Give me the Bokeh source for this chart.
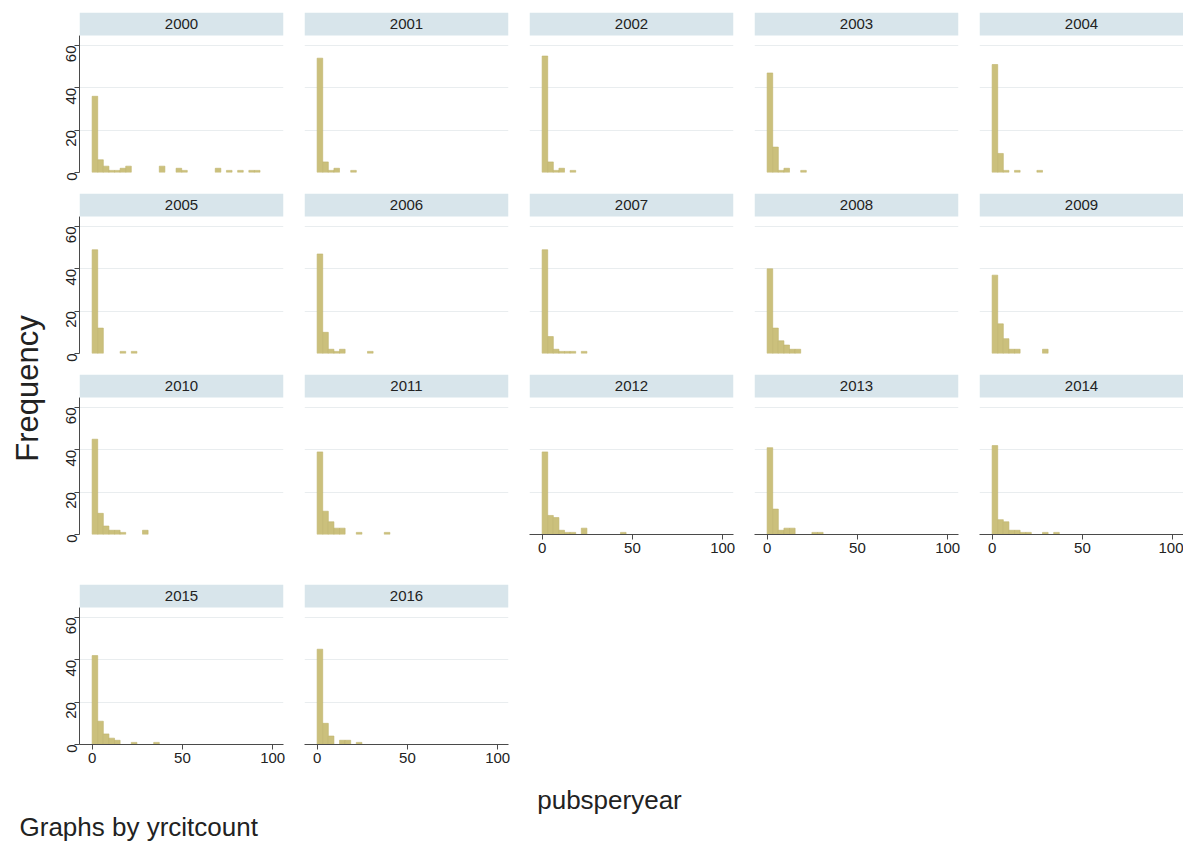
import math
from bokeh.plotting import figure
from bokeh.layouts import row, column
from bokeh.models import Range1d, BoxAnnotation, Label, FixedTicker
from bokeh.embed import file_html
from bokeh.resources import INLINE

# ---------------- data ----------------
years = list(range(2000, 2017))
BIN_START = 0.0
BIN_WIDTH = 3.1
c2000 = [36, 6, 3, 1, 1, 2, 3, 0, 0, 0, 0, 0, 3, 0, 0, 2, 1, 0, 0, 0, 0, 0, 2, 0, 1, 0, 1, 0, 1, 1]
c2001 = [54, 5, 1, 2, 0, 0, 1]
c2002 = [55, 5, 1, 2, 0, 1]
c2003 = [47, 12, 1, 2, 0, 0, 1]
c2004 = [51, 9, 1, 0, 1, 0, 0, 0, 1]
c2005 = [49, 12, 0, 0, 0, 1, 0, 1]
c2006 = [47, 10, 2, 1, 2, 0, 0, 0, 0, 1]
c2007 = [49, 8, 2, 1, 1, 1, 0, 1]
c2008 = [40, 12, 6, 4, 2, 2]
c2009 = [37, 14, 7, 2, 2, 0, 0, 0, 0, 2]
c2010 = [45, 10, 4, 2, 2, 1, 0, 0, 0, 2]
c2011 = [39, 11, 6, 3, 3, 0, 0, 1, 0, 0, 0, 0, 1]
c2012 = [39, 9, 8, 2, 1, 1, 0, 3, 0, 0, 0, 0, 0, 0, 1]
c2013 = [41, 12, 2, 3, 3, 0, 0, 0, 1, 1]
c2014 = [42, 7, 6, 2, 2, 1, 1, 0, 0, 1, 0, 1]
c2015 = [42, 11, 5, 3, 2, 0, 0, 1, 0, 0, 0, 1]
c2016 = [45, 10, 4, 0, 2, 2, 0, 1]
counts = [c2000, c2001, c2002, c2003, c2004, c2005, c2006, c2007, c2008,
          c2009, c2010, c2011, c2012, c2013, c2014, c2015, c2016]
y_ticks = [0, 20, 40, 60]
x_ticks = [0, 50, 100]

# ---------------- styling ----------------
FONT = "Liberation Sans"
BAR_FILL = "#cbc07c"
BAR_LINE = "#c0b46c"
STRIP = "#d8e5eb"
GRID = "#e9edef"
AXIS = "#4a4a4a"
TXT = "#222222"

XMIN, XMAX = -7.0, 106.0
YPLOT = 64.7
FRAME_W, FRAME_H = 204, 160
PLOT_H = 137
STRIP_UNITS = (FRAME_H - PLOT_H) * YPLOT / PLOT_H
YTOP = YPLOT + STRIP_UNITS
LAB_W = 47
LEFT0, GAP = 32, 21
ROW_TOP = [12, 0, 0, 0]
ROW_BOTTOM = [21, 21, 50, 30]
NCOL = 5


def make_panel(idx):
    year = years[idx]
    data = counts[idx]
    r, col = divmod(idx, NCOL)
    show_y = col == 0
    show_x = idx + NCOL >= len(years)
    left = LEFT0 if show_y else 0
    right = 0 if col == NCOL - 1 else GAP
    top, bottom = ROW_TOP[r], ROW_BOTTOM[r]
    p = figure(width=left + FRAME_W + right, height=top + FRAME_H + bottom,
               x_range=Range1d(XMIN, XMAX), y_range=Range1d(0, YTOP),
               x_axis_location="below" if show_x else None,
               y_axis_location="left" if show_y else None,
               toolbar_location=None, tools="", output_backend="svg",
               min_border_left=left, min_border_right=right,
               min_border_top=top, min_border_bottom=bottom)
    p.outline_line_color = None
    p.xgrid.visible = False
    p.ygrid.ticker = FixedTicker(ticks=y_ticks)
    p.ygrid.grid_line_color = GRID
    p.ygrid.grid_line_width = 1

    lefts, rights, tops = [], [], []
    for i, c in enumerate(data):
        if c > 0:
            lefts.append(BIN_START + i * BIN_WIDTH)
            rights.append(BIN_START + (i + 1) * BIN_WIDTH)
            tops.append(c)
    p.quad(left=lefts, right=rights, bottom=0, top=tops,
           fill_color=BAR_FILL, line_color=BAR_LINE, line_width=0.6)

    p.add_layout(BoxAnnotation(bottom=YPLOT, fill_color=STRIP, fill_alpha=1.0,
                               line_color=None))
    p.add_layout(Label(x=(XMIN + XMAX) / 2, y=YPLOT + STRIP_UNITS / 2, text=str(year),
                       text_align="center", text_baseline="middle",
                       text_font=FONT, text_font_size="15px", text_color=TXT))

    for ax in (p.xaxis if show_x else []):
        ax.ticker = FixedTicker(ticks=x_ticks)
        ax.axis_line_color = AXIS
        ax.major_tick_line_color = AXIS
        ax.major_tick_out = 5
        ax.major_tick_in = 0
        ax.minor_tick_line_color = None
        ax.major_label_text_font = FONT
        ax.major_label_text_font_size = "15px"
        ax.major_label_text_color = TXT
        ax.major_label_standoff = 3
    for ax in (p.yaxis if show_y else []):
        ax.ticker = FixedTicker(ticks=y_ticks)
        ax.bounds = (0, YPLOT)
        ax.axis_line_color = AXIS
        ax.major_tick_line_color = AXIS
        ax.major_tick_out = 5
        ax.major_tick_in = 0
        ax.minor_tick_line_color = None
        ax.major_label_text_font = FONT
        ax.major_label_text_font_size = "15px"
        ax.major_label_text_color = TXT
        ax.major_label_standoff = 3
        ax.major_label_orientation = math.pi / 2
    return p


panels = [make_panel(i) for i in range(len(years))]
rows = [row(*panels[i:i + NCOL]) for i in range(0, len(panels), NCOL)]
grid_h = sum(ROW_TOP) + sum(ROW_BOTTOM) + FRAME_H * len(rows)

lab = figure(width=LAB_W, height=grid_h, x_range=Range1d(0, LAB_W), y_range=Range1d(0, grid_h),
             x_axis_location=None, y_axis_location=None, toolbar_location=None, tools="",
             output_backend="svg", min_border=0)
lab.outline_line_color = None
lab.xgrid.visible = False
lab.ygrid.visible = False
lab.add_layout(Label(x=27, y=grid_h - 388, text="Frequency", angle=math.pi / 2,
                     text_align="center", text_baseline="middle",
                     text_font=FONT, text_font_size="31px", text_color=TXT))

total_w = LAB_W + LEFT0 + (NCOL - 1) * (FRAME_W + GAP) + FRAME_W
bot_h = 67
bot = figure(width=total_w, height=bot_h, x_range=Range1d(0, total_w), y_range=Range1d(0, bot_h),
             x_axis_location=None, y_axis_location=None, toolbar_location=None, tools="",
             output_backend="svg", min_border=0)
bot.outline_line_color = None
bot.xgrid.visible = False
bot.ygrid.visible = False
bot.add_layout(Label(x=609, y=bot_h - 25, text="pubsperyear", text_align="center",
                     text_baseline="middle", text_font=FONT, text_font_size="26px",
                     text_color=TXT))
bot.add_layout(Label(x=19, y=15, text="Graphs by yrcitcount", text_align="left",
                     text_baseline="middle", text_font=FONT, text_font_size="26px",
                     text_color=TXT))

layout = column(row(lab, column(*rows)), bot)
open("out.html", "w").write(file_html(layout, INLINE))
